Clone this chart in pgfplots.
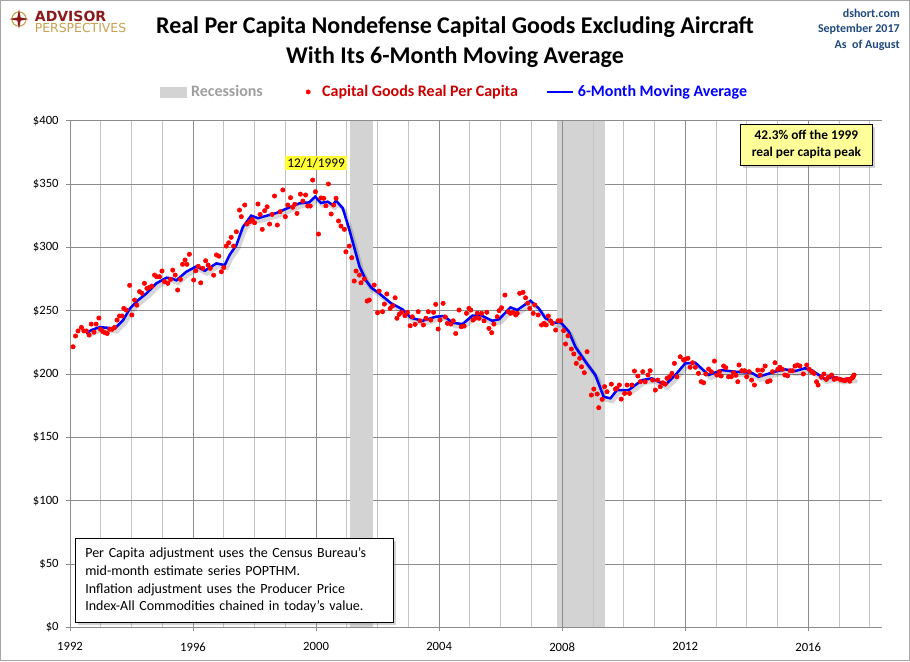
\documentclass[border=0pt]{standalone}
\usepackage{pgfplots}
\pgfplotsset{compat=1.18}
\usepackage{pgfplotstable}
\usepackage{fontspec}
\setmainfont{Carlito}
\newfontfamily\logofont{DejaVu Sans}
\usetikzlibrary{shadows}
\definecolor{gridmaj}{HTML}{8C8C8C}
\definecolor{gridmin}{HTML}{C4C4C4}
\definecolor{recess}{HTML}{D3D3D3}
\definecolor{dotred}{HTML}{FF0000}
\definecolor{legred}{HTML}{CC0000}
\definecolor{mablue}{HTML}{0000FF}
\definecolor{navy}{HTML}{1F497D}
\definecolor{logored}{HTML}{8B1A1A}
\definecolor{logogold}{HTML}{C8A050}
\definecolor{noteyellow}{HTML}{FFFF99}
\definecolor{hiyellow}{HTML}{FFFF33}

\pgfplotstableread{
x y
1992.10 221.5
1992.18 230
1992.26 234
1992.37 236.8
1992.45 234
1992.53 234
1992.62 230.8
1992.69 239.4
1992.78 233
1992.85 239.4
1992.94 244.2
1992.99 235.3
1993.07 233.4
1993.14 232.6
1993.21 232
1993.29 235.3
1993.37 235.3
1993.45 236.8
1993.53 242.6
1993.61 245.8
1993.69 245.8
1993.75 251.8
1993.83 250.5
1993.94 270
1994.01 246.6
1994.10 258.4
1994.17 254.4
1994.26 265
1994.34 263.7
1994.42 271.6
1994.50 267.6
1994.58 268.4
1994.66 269.4
1994.75 278.1
1994.82 276.8
1994.91 276.8
1994.99 281.3
1995.07 272.9
1995.18 271.6
1995.27 274.7
1995.34 282
1995.42 278.1
1995.50 266.3
1995.59 274.7
1995.66 286.6
1995.74 290
1995.80 286.6
1995.88 294.5
1996.02 274.2
1996.09 281.5
1996.17 285
1996.25 272
1996.32 283.4
1996.41 289.4
1996.49 286
1996.56 283.4
1996.67 278
1996.76 294
1996.84 293
1996.92 280.7
1997.00 284
1997.08 301
1997.16 303.6
1997.24 307.9
1997.32 301
1997.41 312.3
1997.51 329.4
1997.57 324.2
1997.68 333.4
1997.75 318.4
1997.84 320.2
1997.92 322
1998.00 319.4
1998.11 334.2
1998.18 326
1998.25 314.2
1998.33 328.9
1998.41 332
1998.49 318.4
1998.57 326
1998.65 340.5
1998.74 317.6
1998.83 328.1
1998.92 345.3
1999.00 324.2
1999.08 333.4
1999.17 339.2
1999.24 331.6
1999.31 334
1999.38 326.8
1999.49 342
1999.57 336.5
1999.66 341.3
1999.73 332.6
1999.81 332.6
1999.89 353.1
1999.98 343.9
2000.08 310.5
2000.16 339
2000.25 338.7
2000.32 332.8
2000.40 350
2000.49 326.3
2000.57 333.4
2000.65 338.7
2000.73 320.8
2000.81 316.8
2000.92 314.2
2000.97 296.5
2001.08 301
2001.16 291.8
2001.24 273.4
2001.30 281.3
2001.41 278.1
2001.46 272
2001.57 275
2001.66 257.6
2001.73 258.4
2001.89 270.2
2002.00 248.4
2002.05 265.5
2002.16 249.2
2002.22 255.2
2002.30 263.2
2002.41 251.8
2002.49 253.9
2002.57 260.2
2002.63 244
2002.70 247.1
2002.78 248.7
2002.89 246
2002.97 248.7
2003.06 238.1
2003.13 245.2
2003.22 239.2
2003.32 249.2
2003.38 242
2003.49 238.7
2003.57 244
2003.65 249.2
2003.73 242.6
2003.82 248.7
2003.89 255
2003.97 235.5
2004.03 242.6
2004.13 255.8
2004.20 245
2004.27 240
2004.38 239.4
2004.46 242
2004.54 232
2004.65 250.5
2004.72 237.3
2004.81 237.9
2004.89 247.9
2004.97 251.8
2005.03 250.5
2005.10 242.6
2005.17 244
2005.24 248
2005.30 244
2005.38 247.9
2005.46 242
2005.55 248.7
2005.62 236
2005.71 232.6
2005.78 239.4
2005.89 245.2
2005.95 250
2006.03 252.3
2006.14 262.3
2006.25 249.2
2006.32 247.9
2006.41 248.4
2006.49 246.6
2006.54 247.9
2006.62 263.7
2006.73 264.5
2006.81 260.2
2006.88 256
2006.95 251.8
2007.06 247.9
2007.11 254.5
2007.22 246.6
2007.33 238.7
2007.41 240
2007.48 238.7
2007.55 245.8
2007.62 242
2007.68 240
2007.79 234.7
2007.87 242
2007.95 242
2008.05 234.2
2008.11 223.7
2008.19 230.2
2008.30 219.7
2008.38 215.8
2008.46 208.4
2008.57 212.4
2008.63 205.7
2008.72 201
2008.81 217.6
2008.95 183.4
2009.03 188.1
2009.14 184.2
2009.19 173.4
2009.30 180
2009.38 190
2009.46 186
2009.60 192
2009.73 188.1
2009.78 188.7
2009.86 191.3
2009.92 180.2
2010.03 184.7
2010.11 191.3
2010.19 184.7
2010.27 191.3
2010.35 202.3
2010.46 198.4
2010.54 193.9
2010.62 201.8
2010.70 193.9
2010.79 199.2
2010.86 202.6
2010.94 195.2
2011.03 187.3
2011.11 195.2
2011.19 190
2011.27 193.1
2011.35 192.1
2011.41 196.6
2011.49 197.8
2011.57 200.5
2011.65 208.4
2011.73 197.8
2011.84 213.6
2011.95 211
2012.00 211.6
2012.09 212.4
2012.16 205.3
2012.24 208.9
2012.33 205.3
2012.43 200.5
2012.52 193.9
2012.60 193.1
2012.67 200
2012.76 203.9
2012.85 201.8
2012.95 210.2
2013.03 199.2
2013.11 201.8
2013.17 198.4
2013.25 206.3
2013.32 205
2013.41 197.8
2013.50 197.8
2013.57 201
2013.65 199
2013.71 193.9
2013.75 207.1
2013.84 202.6
2013.93 202.6
2014.00 197.8
2014.08 201.8
2014.16 195.2
2014.25 191.3
2014.36 203.1
2014.44 199.2
2014.51 203.1
2014.60 206.3
2014.68 193.9
2014.76 194.7
2014.84 201.8
2014.92 208.9
2015.01 203.7
2015.08 205.3
2015.16 203.7
2015.24 199.2
2015.33 198.6
2015.41 202.6
2015.49 202.6
2015.57 206.3
2015.65 207.1
2015.73 206.3
2015.84 200
2015.95 207.1
2016.03 203.7
2016.11 201.8
2016.19 200.5
2016.27 193.9
2016.32 191.3
2016.43 197.4
2016.51 200
2016.59 195.8
2016.65 197.4
2016.76 199.2
2016.84 195.8
2016.92 196.6
2017.03 195.8
2017.10 195.2
2017.19 194.7
2017.27 195.8
2017.35 194.4
2017.41 196.6
2017.46 197.8
2017.49 199.2
}\capdata

\pgfplotstableread{
x y
1992.52 232
1992.70 234.7
1992.97 237
1993.20 236.5
1993.46 236
1993.73 242.6
1993.95 251.8
1994.20 258
1994.49 263.7
1994.81 271.6
1995.14 276
1995.30 275.5
1995.46 274
1995.78 280.7
1996.11 285
1996.38 281.5
1996.76 287.3
1997.03 286
1997.19 294
1997.41 301.8
1997.62 316
1997.89 325
1998.11 323
1998.49 325.6
1998.70 327
1999.14 331.6
1999.46 334.7
1999.78 335.5
1999.97 340
2000.16 335
2000.38 336
2000.54 333.4
2000.65 336.8
2000.87 330.8
2001.08 314
2001.24 300
2001.41 285
2001.62 274
2001.80 268
2002.05 263.7
2002.43 256
2002.81 251
2003.08 244.4
2003.46 242
2003.89 245.2
2004.16 245.8
2004.43 240.5
2004.76 239.4
2005.08 246
2005.35 246.5
2005.73 242
2005.95 243.2
2006.32 252.6
2006.54 250.5
2006.97 257.8
2007.24 251.8
2007.46 244
2007.73 240.5
2007.95 240.8
2008.22 233.4
2008.43 221.5
2008.76 209.7
2009.08 199.2
2009.35 182
2009.57 180.8
2009.78 187.3
2010.16 187.3
2010.60 195.2
2010.92 196.6
2011.35 191.3
2011.68 199.2
2012.00 208.4
2012.33 208.9
2012.76 199.2
2013.19 203.1
2013.62 201.8
2014.16 201
2014.38 197.8
2014.92 201.8
2015.24 203.7
2015.57 202.3
2015.89 204.5
2016.11 203.1
2016.54 196
2016.81 197.8
2017.08 195.8
2017.46 196.6
2017.50 198
}\madata

\begin{document}
\begin{tikzpicture}
\useasboundingbox (-52.5pt,-25.3pt) rectangle (630pt,470.5pt);
\draw[color=gray!70, line width=0.8pt] (-51.8pt,-24.6pt) rectangle (629.3pt,469.8pt);
\begin{axis}[
  at={(0,0)}, anchor=south west,
  width=608.8pt, height=380pt, scale only axis,
  xmin=1992, xmax=2018.39, ymin=0, ymax=400,
  xtick={1992,1996,2000,2004,2008,2012,2016},
  xticklabels={1992,1996,2000,2004,2008,2012,2016},
  minor xtick={1993,1994,1995,1997,1998,1999,2001,2002,2003,2005,2006,2007,2009,2010,2011,2013,2014,2015,2017,2018},
  ytick={0,50,100,150,200,250,300,350,400},
  yticklabels={\$0,\$50,\$100,\$150,\$200,\$250,\$300,\$350,\$400},
  grid=both,
  major grid style={color=gridmaj, line width=0.6pt},
  minor grid style={color=gridmin, line width=0.6pt},
  axis x line=bottom, axis y line=left,
  axis line style={-, draw=gridmaj, line width=0.6pt},
  tick style={draw=gridmaj, line width=0.6pt},
  tick align=outside, major tick length=3pt, minor tick length=0pt,
  ticklabel style={font=\fontsize{9.5}{11}\selectfont},
  xticklabel style={yshift=-5pt},
  yticklabel style={xshift=-2pt},
  /pgf/number format/assume math mode=true,
  clip=false,
  legend columns=3,
  legend style={at={(0.474,1.0567)}, anchor=center, draw=none, fill=none,
    font=\bfseries\fontsize{12}{14}\selectfont,
    /tikz/every even column/.append style={column sep=19pt},
    /tikz/every odd column/.append style={column sep=1pt}},
]
\addlegendimage{legend image code/.code={\fill[recess] (0pt,-3.75pt) rectangle (20pt,3.75pt);}}
\addlegendentry{\textcolor{gray!75}{Recessions}}
\addlegendimage{legend image code/.code={\path[draw=none, fill=none] (-13pt,0pt) rectangle (7.5pt,0.1pt); \fill[dotred] (0pt,0pt) circle (1.6pt);}}
\addlegendentry{\textcolor{legred}{Capital Goods Real Per Capita}}
\addlegendimage{legend image code/.code={\draw[mablue, line width=1.5pt] (0pt,0pt) -- (19.5pt,0pt);}}
\addlegendentry{\textcolor{mablue}{6-Month Moving Average}}

\addplot[fill=recess, draw=none, forget plot] coordinates {(2001.1,0) (2001.1,400) (2001.85,400) (2001.85,0)} -- cycle;
\addplot[fill=recess, draw=none, forget plot] coordinates {(2007.83,0) (2007.83,400) (2009.38,400) (2009.38,0)} -- cycle;
\addplot[gridmin, line width=0.6pt, forget plot] coordinates {(2009,0) (2009,400)};
\addplot[gridmaj, line width=0.6pt, forget plot] coordinates {(2008,0) (2008,400)};

\addplot[color=dotred, only marks, mark=*, mark size=1.65pt, mark options={solid, draw=dotred, fill=dotred}, forget plot] table[x=x, y=y] {\capdata};
\addplot[black, opacity=0.16, line width=3.2pt, xshift=1.5pt, yshift=-2.2pt, forget plot] table[x=x, y=y] {\madata};
\addplot[mablue, line width=1.9pt, forget plot] table[x=x, y=y] {\madata};

\node[fill=hiyellow, inner sep=1.5pt, font=\fontsize{10}{12}\selectfont] at (axis cs:2000.0,366.5) {12/1/1999};

\node[draw=black, fill=noteyellow, line width=0.6pt, drop shadow={shadow xshift=2pt, shadow yshift=-2pt, opacity=0.35},
  minimum width=99.5pt, minimum height=30.75pt, inner sep=2pt, align=center,
  font=\bfseries\fontsize{10}{12.5}\selectfont] at (axis cs:2015.94,381.2) {42.3\% off the 1999\\real per capita peak};

\node[draw=black, fill=white, line width=0.6pt, drop shadow={shadow xshift=2pt, shadow yshift=-2pt, opacity=0.35},
  anchor=south west, minimum width=238.5pt, minimum height=60.75pt, inner sep=7pt, text width=224pt, align=left,
  font=\fontsize{10.5}{13.2}\selectfont] at (axis cs:1992.17,3.6)
  {Per Capita adjustment uses the Census Bureau's\\mid-month estimate series POPTHM.\\Inflation adjustment uses the Producer Price\\Index-All Commodities chained in today's value.};
\end{axis}

% titles
\node[font=\bfseries\fontsize{18}{21}\selectfont] at (288.75pt,450.2pt) {Real Per Capita Nondefense Capital Goods Excluding Aircraft};
\node[font=\bfseries\fontsize{18}{21}\selectfont] at (288.75pt,427.7pt) {With Its 6-Month Moving Average};
% top right
\node[anchor=east, inner sep=0pt, text=navy, font=\bfseries\fontsize{9}{11}\selectfont] at (622.5pt,460.4pt) {dshort.com};
\node[anchor=east, inner sep=0pt, text=navy, font=\bfseries\fontsize{9}{11}\selectfont] at (622.5pt,448.4pt) {September 2017};
\node[anchor=east, inner sep=0pt, text=navy, font=\bfseries\fontsize{9}{11}\selectfont] at (622.5pt,436.4pt) {As\ \ of August};
% logo
\fill[logogold] (-38.25pt,456.2pt) circle (5.8pt);
\fill[white] (-38.25pt,456.2pt) circle (4.8pt);
\fill[logored] (-38.25pt,463.4pt) -- (-37.0pt,457.4pt) -- (-31.05pt,456.2pt) -- (-37.0pt,455.0pt) -- (-38.25pt,449.0pt) -- (-39.5pt,455.0pt) -- (-45.45pt,456.2pt) -- (-39.5pt,457.4pt) -- cycle;
\node[anchor=base west, inner sep=0pt, text=logored, font=\logofont\bfseries\fontsize{10.5}{12}\selectfont] at (-26.5pt,454pt) {ADVISOR};
\node[anchor=base west, inner sep=0pt, text=logogold, font=\logofont\fontsize{9.3}{10}\selectfont] at (-26.5pt,446pt) {PERSPECTIVES};
\end{tikzpicture}
\end{document}
